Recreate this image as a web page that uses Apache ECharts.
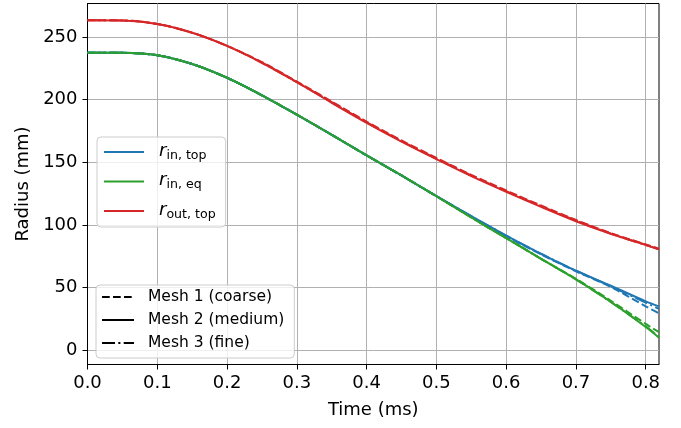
<!DOCTYPE html>
<html>
<head>
<meta charset="utf-8">
<script src="https://cdn.jsdelivr.net/npm/echarts@6/dist/echarts.min.js"></script>
<style>html,body{margin:0;padding:0;background:#fff}#c{width:681px;height:428px}</style>
</head>
<body>
<div id="c"></div>
<script>
// ---- data ----
const time = [0, 0.05, 0.1, 0.15, 0.2, 0.25, 0.3, 0.35, 0.4, 0.45, 0.5, 0.55, 0.6, 0.65, 0.7, 0.75, 0.8, 0.819];

const rInTopMesh1 = [237.5, 237.4, 235.5, 228.5, 217.5, 203.5, 188, 172, 155.5, 139.5, 123, 106.5, 91, 76.5, 63, 50.5, 35, 29.5];
const rInTopMesh2 = [237.5, 237.4, 235.5, 228.5, 217.5, 203.5, 188, 172, 155.5, 139.5, 123, 107, 91.5, 77, 63.5, 51.5, 39, 35];
const rInTopMesh3 = [237.5, 237.4, 235.5, 228.5, 217.5, 203.5, 188, 172, 155.5, 139.5, 123, 107, 91.5, 77, 63.5, 51, 38, 33];

const rInEqMesh1 = [237.5, 237.4, 235.5, 228.5, 217.5, 203.5, 188, 172, 155.5, 139.5, 123, 106, 89.5, 73, 57, 39.5, 21, 14.5];
const rInEqMesh2 = [237.5, 237.4, 235.5, 228.5, 217.5, 203.5, 188, 172, 155.5, 139.5, 123, 106, 89.5, 73, 56.5, 38.5, 18.5, 10];
const rInEqMesh3 = [237.5, 237.4, 235.5, 228.5, 217.5, 203.5, 188, 172, 155.5, 139.5, 123, 106, 89.5, 73, 56.5, 38.5, 19, 10.5];

const rOutTopMesh1 = [263.5, 263.3, 260.5, 253.5, 243, 230, 214.5, 198.5, 182.5, 167.5, 153.5, 140, 127.5, 115.5, 104, 93.5, 84.5, 81];
const rOutTopMesh2 = [263.5, 263.3, 260.5, 253.5, 243, 229.5, 214, 197.5, 181.5, 166.5, 152.5, 139, 126.5, 114.5, 103, 93, 84, 80.5];
const rOutTopMesh3 = [263.5, 263.3, 260.5, 253.5, 243, 229.5, 214, 198, 182, 167, 153, 139.5, 127, 115, 103.5, 93, 84, 80.5];

const xTicks = [0, 0.1, 0.2, 0.3, 0.4, 0.5, 0.6, 0.7, 0.8];
const yTicks = [0, 50, 100, 150, 200, 250];

const varNames = ['rInTop', 'rInEq', 'rOutTop'];
const varSubs = ['in, top', 'in, eq', 'out, top'];
const varColors = ['#1f77b4', '#2ca02c', '#d62728'];
const meshNames = ['Mesh 1 (coarse)', 'Mesh 2 (medium)', 'Mesh 3 (fine)'];

// ---- build ----
const FONT = 'DejaVu Sans';
const dashed = [7.7, 3.3];
const dashDot = [13, 3.3, 2.1, 3.3];
const meshTypes = [dashed, 'solid', dashDot];
const valueSets = [
  [rInTopMesh1, rInTopMesh2, rInTopMesh3],
  [rInEqMesh1, rInEqMesh2, rInEqMesh3],
  [rOutTopMesh1, rOutTopMesh2, rOutTopMesh3]
];

const series = [];
for (let m = 0; m < 3; m++) {
  for (let v = 0; v < 3; v++) {
    const vals = valueSets[v][m];
    series.push({
      type: 'line',
      name: m === 1 ? varNames[v] : varNames[v] + '_m' + (m + 1),
      data: time.map((t, i) => [t, vals[i]]),
      symbol: 'none',
      smooth: 0.3,
      clip: true,
      silent: true,
      color: varColors[v],
      lineStyle: { color: varColors[v], width: 2, type: meshTypes[m] },
      z: 2
    });
  }
}
// legend-only series for mesh styles
for (let m = 0; m < 3; m++) {
  series.push({
    type: 'line', name: meshNames[m], data: [], symbol: 'none',
    color: '#000', lineStyle: { color: '#000', width: 2, type: meshTypes[m] }
  });
}

const subMap = {};
varNames.forEach((n, i) => subMap[n] = varSubs[i]);

const chart = echarts.init(document.getElementById('c'), null, { renderer: 'canvas' });
chart.setOption({
  animation: false,
  backgroundColor: '#fff',
  textStyle: { fontFamily: FONT },
  grid: { left: 87.5, right: 22, top: 3.5, bottom: 63.5, show: true, borderColor: '#000', borderWidth: 1, containLabel: false },
  xAxis: {
    type: 'value', min: 0, max: 0.819,
    name: 'Time (ms)', nameLocation: 'middle', nameGap: 37,
    nameTextStyle: { fontFamily: FONT, fontSize: 18, color: '#000' },
    axisLine: { show: true, onZero: false, lineStyle: { color: '#000', width: 1 } },
    axisTick: { show: true, inside: false, length: 5, lineStyle: { color: '#000', width: 1 }, customValues: xTicks },
    axisLabel: { fontFamily: FONT, fontSize: 18, color: '#000', margin: 10,
      customValues: xTicks, formatter: v => v.toFixed(1) },
    splitLine: { show: true, lineStyle: { color: '#b0b0b0', width: 1 } }
  },
  yAxis: {
    type: 'value', min: -11.4, max: 276.8,
    name: 'Radius (mm)', nameLocation: 'middle', nameGap: 51,
    nameTextStyle: { fontFamily: FONT, fontSize: 18, color: '#000' },
    axisLine: { show: true, onZero: false, lineStyle: { color: '#000', width: 1 } },
    axisTick: { show: true, inside: false, length: 5, lineStyle: { color: '#000', width: 1 }, customValues: yTicks },
    axisLabel: { fontFamily: FONT, fontSize: 18, color: '#000', margin: 10, customValues: yTicks },
    splitLine: { show: true, lineStyle: { color: '#b0b0b0', width: 1 } }
  },
  legend: [
    {
      data: varNames, orient: 'vertical', left: 97, top: 137,
      padding: [5, 10, 6, 6], itemGap: 9.5, itemWidth: 40, itemHeight: 14,
      backgroundColor: 'rgba(255,255,255,0.8)', borderColor: '#cccccc', borderWidth: 1, borderRadius: 4,
      selectedMode: false,
      itemStyle: { opacity: 0 },
      formatter: name => '{r|r}{s|' + subMap[name] + '}',
      textStyle: {
        rich: {
          r: { fontFamily: FONT, fontStyle: 'italic', fontSize: 18, color: '#000', verticalAlign: 'bottom', padding: [0, 0, 2, 10] },
          s: { fontFamily: FONT, fontSize: 12.6, color: '#000', verticalAlign: 'bottom' }
        }
      }
    },
    {
      data: meshNames, orient: 'vertical', left: 96, top: 285,
      padding: [3, 10, 6, 5], itemGap: 5, itemWidth: 32, itemHeight: 14,
      backgroundColor: 'rgba(255,255,255,0.8)', borderColor: '#cccccc', borderWidth: 1, borderRadius: 4,
      selectedMode: false,
      itemStyle: { opacity: 0 },
      textStyle: { fontFamily: FONT, fontSize: 15.5, color: '#000', lineHeight: 18, padding: [0, 0, 0, 9] }
    }
  ],
  series: series
});
</script>
</body>
</html>
